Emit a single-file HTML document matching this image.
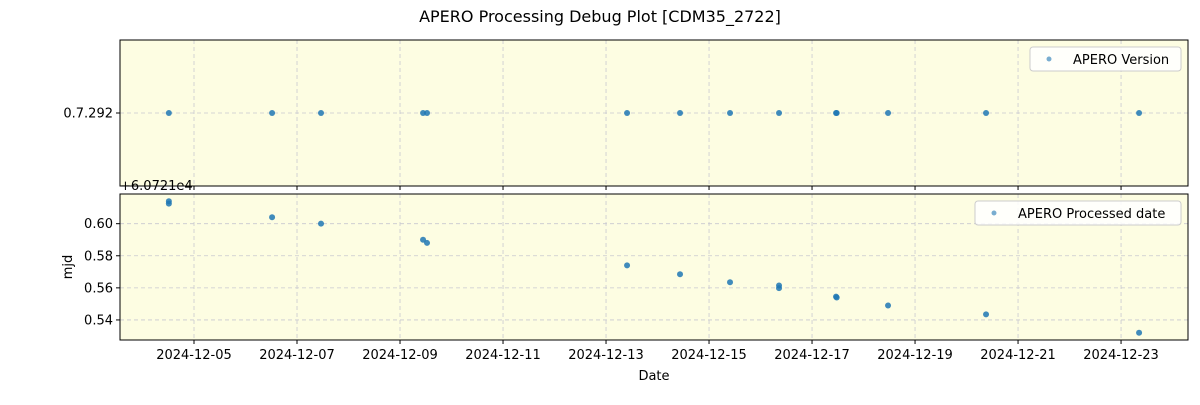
<!DOCTYPE html>
<html><head><meta charset="utf-8"><style>
body{margin:0;background:#fff;font-family:"Liberation Sans","DejaVu Sans",sans-serif;}
svg text{font-family:"DejaVu Sans","Liberation Sans",sans-serif;}
</style></head><body>
<svg id="c" width="1200" height="400" xmlns="http://www.w3.org/2000/svg">
<text x="600" y="22" font-size="16" text-anchor="middle">APERO Processing Debug Plot [CDM35_2722]</text>
</svg>
<script>
const versionDates=["2024-12-04T12:17","2024-12-06T12:23","2024-12-07T11:11","2024-12-09T10:44","2024-12-09T12:35","2024-12-13T09:48","2024-12-14T10:29","2024-12-15T09:47","2024-12-16T08:37","2024-12-17T11:11","2024-12-17T11:30","2024-12-18T11:25","2024-12-20T09:05","2024-12-23T08:24"];
const versionValues=[7.292,7.292,7.292,7.292,7.292,7.292,7.292,7.292,7.292,7.292,7.292,7.292,7.292,7.292];
const procDates=["2024-12-04T12:17","2024-12-04T12:17","2024-12-06T12:23","2024-12-07T11:11","2024-12-09T10:44","2024-12-09T12:35","2024-12-13T09:48","2024-12-14T10:29","2024-12-15T09:47","2024-12-16T08:37","2024-12-16T08:37","2024-12-17T11:11","2024-12-17T11:30","2024-12-18T11:25","2024-12-20T09:05","2024-12-23T08:24"];
const procValues=[0.614,0.6125,0.604,0.600,0.590,0.588,0.574,0.5685,0.5635,0.5615,0.5598,0.5545,0.554,0.549,0.5435,0.532];
const xTickLabels=["2024-12-05","2024-12-07","2024-12-09","2024-12-11","2024-12-13","2024-12-15","2024-12-17","2024-12-19","2024-12-21","2024-12-23"];
const yTickValues=[0.54,0.56,0.58,0.60];
const topTickValues=[7.292];
const topTickLabels=["0.7.292"];

const svg=document.getElementById('c');
const NS="http://www.w3.org/2000/svg";
function mk(t,a,parent){const e=document.createElementNS(NS,t);for(const k in a)e.setAttribute(k,a[k]);(parent||svg).appendChild(e);return e;}
const L=120,R=1188;
const t0=Date.parse("2024-12-05T00:00Z"),DAY=86400000;
const dayMin=-1.437,dayMax=19.30;
function xs(d){const dd=(Date.parse(d+(d.length>10?"Z":"T00:00Z"))-t0)/DAY;return L+(dd-dayMin)/(dayMax-dayMin)*(R-L);}
const T1=40,B1=186,T2=194,B2=340;
function yTop(v){return (T1+B1)/2-(v-7.292)*1000;}
const yMin=0.5275,yMax=0.6185;
function yBot(v){return B2-(v-yMin)/(yMax-yMin)*(B2-T2);}
const GRID='#c8c8d0';

function panel(top,bot,name){
 const r=mk('rect',{x:L,y:top,width:R-L,height:bot-top,fill:'#fdfde2'});
 
 
 xTickLabels.forEach(lbl=>{const x=xs(lbl);
  const g=mk('line',{x1:x,x2:x,y1:top,y2:bot,stroke:GRID,'stroke-dasharray':'4,3','stroke-width':0.8});
  
  
  const tk=mk('line',{x1:x,x2:x,y1:bot,y2:bot+4,stroke:'#000'});
  
  
 });
}
panel(T1,B1,'top-panel');panel(T2,B2,'bottom-panel');

topTickValues.forEach((v,i)=>{const y=yTop(v);
 const g=mk('line',{x1:L,x2:R,y1:y,y2:y,stroke:GRID,'stroke-dasharray':'4,3','stroke-width':0.8});
 
 
 const tk=mk('line',{x1:L-4,x2:L,y1:y,y2:y,stroke:'#000'});
 
 
 const t=mk('text',{x:L-7,y:y+4.5,'font-size':13,'text-anchor':'end'});t.textContent=topTickLabels[i];
 
 
});
yTickValues.forEach(v=>{const y=yBot(v);
 const g=mk('line',{x1:L,x2:R,y1:y,y2:y,stroke:GRID,'stroke-dasharray':'4,3','stroke-width':0.8});
 
 
 const tk=mk('line',{x1:L-4,x2:L,y1:y,y2:y,stroke:'#000'});
 
 
 const t=mk('text',{x:L-7,y:y+4.5,'font-size':13,'text-anchor':'end'});t.textContent=v.toFixed(2);
 
 
});
xTickLabels.forEach(lbl=>{const t=mk('text',{x:xs(lbl),y:B2+19,'font-size':13,'text-anchor':'middle'});t.textContent=lbl;
 
 
});
versionDates.forEach((d,i)=>{const c=mk('circle',{cx:xs(d),cy:yTop(versionValues[i]),r:3,fill:'#1f77b4','fill-opacity':0.85});
 
 
});
procDates.forEach((d,i)=>{const c=mk('circle',{cx:xs(d),cy:yBot(procValues[i]),r:3,fill:'#1f77b4','fill-opacity':0.85});
 
 
});
[[T1,B1],[T2,B2]].forEach(([a,b])=>{const f=mk('rect',{x:L,y:a,width:R-L,height:b-a,fill:'none',stroke:'#000','stroke-width':1});
 
 
});
function legend(x,y,w,label,name){
 const g=mk('g',{});
 
 
 mk('rect',{x:x,y:y,width:w,height:24,rx:3,fill:'#fff','fill-opacity':0.85,stroke:'#ccc'},g);
 mk('circle',{cx:x+19,cy:y+12,r:2.5,fill:'#1f77b4','fill-opacity':0.6},g);
 const t=mk('text',{x:x+43,y:y+17,'font-size':13},g);t.textContent=label;
}
legend(1030,47,151,'APERO Version','legend-version');
legend(975,201,206,'APERO Processed date','legend-processed-date');
const off=mk('text',{x:L,y:T2-4,'font-size':13});off.textContent='+6.0721e4';


const yl=mk('text',{x:72,y:(T2+B2)/2,'font-size':13,'text-anchor':'middle',transform:`rotate(-90 72 ${(T2+B2)/2})`});yl.textContent='mjd';


const xl=mk('text',{x:(L+R)/2,y:380,'font-size':13,'text-anchor':'middle'});xl.textContent='Date';


</script>
</body></html>
